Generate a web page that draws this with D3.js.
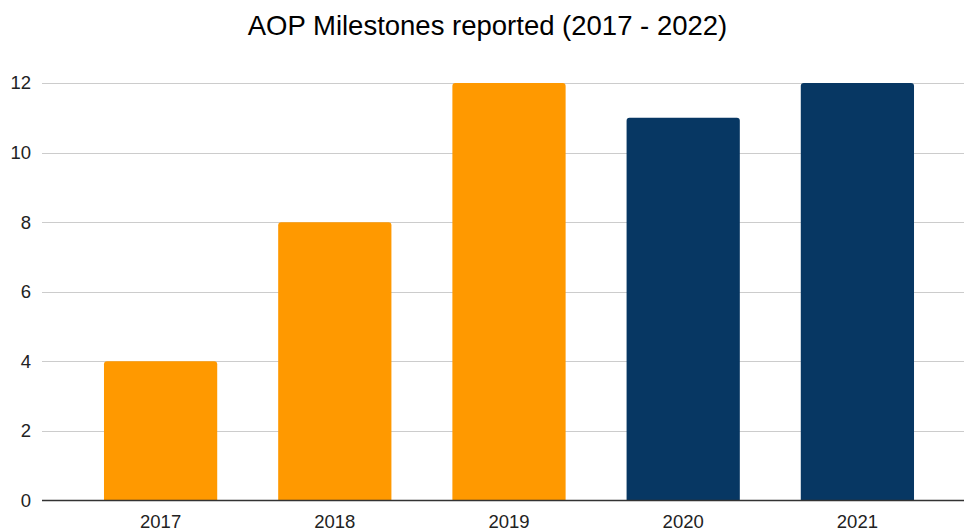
<html>
<head>
	<meta charset='utf-8' />
	<title>AOP Milestones</title>
	<script src="https://d3js.org/d3.v7.min.js"></script>
	<style>
	body { margin: 0; background: #ffffff; }
	text { font-family: Arial, "Liberation Sans", sans-serif; }
	.grid line { stroke: #cccccc; stroke-width: 1; }
	</style>
</head>
<body>
<script>

	var years = ["2017", "2018", "2019", "2020", "2021"];
	var milestones = [4, 8, 12, 11, 12];
	var barColors = ["#ff9900", "#ff9900", "#ff9900", "#073763", "#073763"];
	var yTicks = [0, 2, 4, 6, 8, 10, 12];

	var W = 964, H = 531;
	var gridLeft = 42, gridRight = 964;

	var svg = d3.select("body").append("svg")
		.attr("width", W)
		.attr("height", H);

	svg.append("rect").attr("width", W).attr("height", H).attr("fill", "#ffffff");

	var xScale = d3.scaleBand().domain(years).range([73.5, 944.5])
		.paddingInner(0.35).paddingOuter(0.175);
	var yScale = d3.scaleLinear().domain([0, 12]).range([500.5, 83]);

	// title
	svg.append("text")
		.attr("x", 487.5)
		.attr("y", 34.5)
		.attr("text-anchor", "middle")
		.attr("font-size", "27.5px")
		.attr("fill", "#000000")
		.text("AOP Milestones reported (2017 - 2022)");

	// grid lines
	var grid = svg.append("g").attr("class", "grid");
	grid.selectAll("line").data(yTicks.filter(d => d > 0)).enter().append("line")
		.attr("x1", gridLeft).attr("x2", gridRight)
		.attr("y1", d => Math.round(yScale(d)) + 0.5)
		.attr("y2", d => Math.round(yScale(d)) + 0.5);

	// y labels
	svg.append("g").selectAll("text").data(yTicks).enter().append("text")
		.attr("x", 31)
		.attr("y", d => yScale(d))
		.attr("dy", "0.35em")
		.attr("text-anchor", "end")
		.attr("font-size", "18.5px")
		.attr("fill", "#222222")
		.text(d => d);

	// bars with rounded top corners
	var r = 3;
	var barPath = function(d, i) {
		var x0 = xScale(years[i]), w = xScale.bandwidth();
		var y0 = yScale(d), y1 = yScale(0);
		return "M" + x0 + "," + y1 +
			"V" + (y0 + r) +
			"Q" + x0 + "," + y0 + " " + (x0 + r) + "," + y0 +
			"H" + (x0 + w - r) +
			"Q" + (x0 + w) + "," + y0 + " " + (x0 + w) + "," + (y0 + r) +
			"V" + y1 + "Z";
	};

	svg.append("g").selectAll("path").data(milestones).enter().append("path")
		.attr("d", barPath)
		.attr("fill", (d, i) => barColors[i]);

	// baseline
	svg.append("line")
		.attr("x1", gridLeft).attr("x2", gridRight)
		.attr("y1", 500.5).attr("y2", 500.5)
		.attr("stroke", "#333333").attr("stroke-width", 1.5);

	// x labels
	svg.append("g").selectAll("text").data(years).enter().append("text")
		.attr("x", d => xScale(d) + xScale.bandwidth() / 2)
		.attr("y", 528)
		.attr("text-anchor", "middle")
		.attr("font-size", "18.5px")
		.attr("fill", "#222222")
		.text(d => d);

</script>
</body>
</html>
